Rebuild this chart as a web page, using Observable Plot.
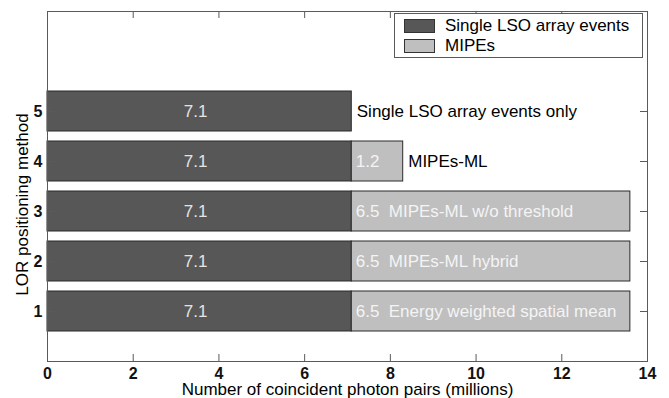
<!DOCTYPE html>
<html>
<head>
<meta charset="utf-8">
<script src="https://cdn.jsdelivr.net/npm/d3@7"></script>
<script src="https://cdn.jsdelivr.net/npm/@observablehq/plot@0.6"></script>
<style>
  body { margin: 0; background: #fff; font-family: "Liberation Sans", Arial, sans-serif; }
  #wrap { position: relative; width: 669px; height: 398px; }
  #legend { position: absolute; left: 394px; top: 13px; width: 249px; height: 45px; box-sizing: border-box;
            border: 1px solid #5a5a5a; background: #fff; font-size: 17px; color: #000; }
  .sw { position: absolute; left: 9px; width: 31px; height: 14px; box-sizing: border-box; border: 1px solid #333; }
  .lt { position: absolute; left: 50px; line-height: 20px; white-space: nowrap; }
</style>
</head>
<body>
<div id="wrap"></div>
<script>
// ---- data ----
const methods = [1, 2, 3, 4, 5];
const singleEvents = [7.1, 7.1, 7.1, 7.1, 7.1];
const mipesEvents = [6.5, 6.5, 6.5, 1.2, 0];
const methodLabels = [
  "Energy weighted spatial mean",
  "MIPEs-ML hybrid",
  "MIPEs-ML w/o threshold",
  "MIPEs-ML",
  "Single LSO array events only"
];
const seriesNames = ["Single LSO array events", "MIPEs"];
const seriesColors = ["#575757", "#bfbfbf"];
const xTicks = [0, 2, 4, 6, 8, 10, 12, 14];
const yTicks = [1, 2, 3, 4, 5];
const xDomain = [0, 14];
const yDomain = [0, 7];
const xTitle = "Number of coincident photon pairs (millions)";
const yTitle = "LOR positioning method";

// ---- derived tables ----
const rows = methods.map((m, i) => ({
  method: m, single: singleEvents[i], mipes: mipesEvents[i], label: methodLabels[i]
}));
const segments = rows.flatMap(d => {
  const s = [{method: d.method, series: seriesNames[0], x1: 0, x2: d.single}];
  if (d.mipes > 0) s.push({method: d.method, series: seriesNames[1], x1: d.single, x2: d.single + d.mipes});
  return s;
});
const inside = d => d.mipes > 2;

const font = "Liberation Sans, Arial, sans-serif";
const chart = Plot.plot({
  width: 669,
  height: 398,
  marginLeft: 47,
  marginRight: 22,
  marginTop: 11,
  marginBottom: 37,
  style: {fontFamily: font, fontSize: "17px", background: "white", color: "black"},
  x: {domain: xDomain, axis: null},
  y: {domain: yDomain, axis: null},
  color: {domain: seriesNames, range: seriesColors},
  marks: [
    Plot.rect(segments, {
      x1: "x1", x2: "x2",
      y1: d => d.method - 0.4, y2: d => d.method + 0.4,
      fill: "series", stroke: "#2a2a2a", strokeWidth: 1
    }),
    Plot.frame({stroke: "#5a5a5a"}),
    Plot.tickX(xTicks, {x: d => d, insetTop: 343, stroke: "#5a5a5a"}),
    Plot.tickX(xTicks, {x: d => d, insetBottom: 343, stroke: "#5a5a5a"}),
    Plot.tickY(yTicks, {y: d => d, insetRight: 593, stroke: "#5a5a5a"}),
    Plot.tickY(yTicks, {y: d => d, insetLeft: 593, stroke: "#5a5a5a"}),
    // tick labels
    Plot.text(xTicks, {x: d => d, text: d => String(d), frameAnchor: "bottom", textAnchor: "middle", lineAnchor: "top", dy: 6, fontSize: 16, fontWeight: "bold", fill: "#111"}),
    Plot.text(yTicks, {y: d => d, text: d => String(d), frameAnchor: "left", textAnchor: "end", lineAnchor: "middle", dx: -5, fontSize: 16, fontWeight: "bold", fill: "#111"}),
    // bar value labels
    Plot.text(rows, {x: d => d.single / 2, y: "method", text: d => d.single.toFixed(1), fill: "#e4e4e4", dx: -4, fontSize: 17}),
    Plot.text(rows.filter(d => d.mipes > 0), {x: "single", y: "method", text: d => d.mipes.toFixed(1), textAnchor: "start", dx: 4, fill: "#f4f4f4", fontSize: 17}),
    Plot.text(rows.filter(inside), {x: "single", y: "method", text: "label", textAnchor: "start", dx: 37, fill: "#f4f4f4", fontSize: 17}),
    Plot.text(rows.filter(d => !inside(d)), {x: d => d.single + d.mipes, y: "method", text: "label", textAnchor: "start", dx: 5, fill: "black", fontSize: 17}),
    // axis titles
    Plot.text([xTitle], {frameAnchor: "bottom", textAnchor: "middle", lineAnchor: "bottom", dy: 33, fontSize: 17, fill: "black"}),
    Plot.text([yTitle], {frameAnchor: "left", textAnchor: "middle", rotate: -90, dx: -25, dy: 18, fontSize: 17, fill: "black"})
  ]
});

const wrap = document.getElementById("wrap");
wrap.appendChild(chart);

// legend inside the axes (top right)
const legend = document.createElement("div");
legend.id = "legend";
seriesNames.forEach((name, i) => {
  const sw = document.createElement("div");
  sw.className = "sw";
  sw.style.top = (5 + i * 20) + "px";
  sw.style.background = seriesColors[i];
  const t = document.createElement("div");
  t.className = "lt";
  t.style.top = (2 + i * 20) + "px";
  t.textContent = name;
  legend.appendChild(sw);
  legend.appendChild(t);
});
wrap.appendChild(legend);
</script>
</body>
</html>
